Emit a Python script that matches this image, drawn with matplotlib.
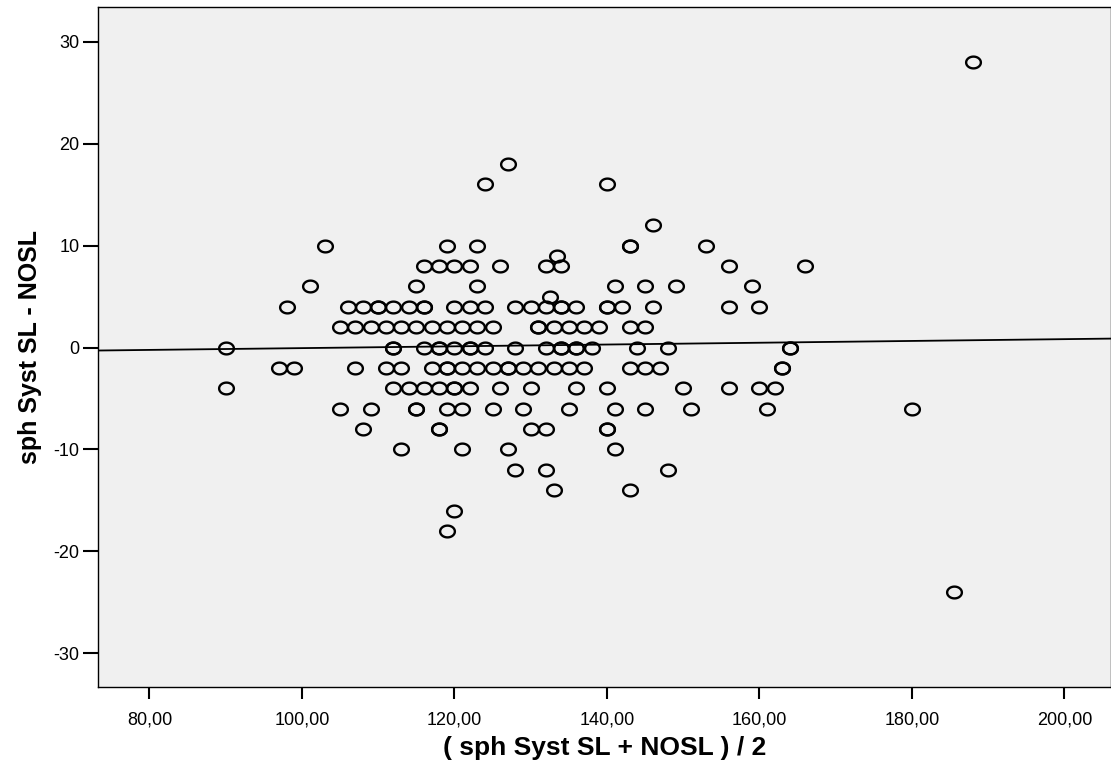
import numpy as np
import matplotlib
matplotlib.use("Agg")
import matplotlib.pyplot as plt
from matplotlib.path import Path

plt.rcParams['font.family'] = ['Liberation Sans', 'DejaVu Sans']

# Bland-Altman data: x = mean (SL+NOSL)/2, grouped by difference value
x_d28 = [188]
x_d18 = [127]
x_d16 = [124, 140]
x_d12 = [146]
x_d10 = [103, 119, 123, 143, 143, 153]
x_d9 = [133.5]
x_d8 = [116, 118, 120, 122, 126, 132, 134, 156, 166]
x_d6 = [101, 115, 123, 141, 145, 149, 159]
x_d5 = [132.5]
x_d4 = [98, 106, 108, 110, 110, 112, 114, 116, 116, 120, 122, 124, 128, 130,
        132, 134, 134, 136, 140, 140, 142, 146, 156, 160]
x_d2 = [105, 107, 109, 111, 113, 115, 117, 119, 121, 123, 125, 131, 131, 133,
        135, 137, 139, 143, 145]
x_d0 = [90, 112, 112, 116, 118, 118, 120, 122, 122, 124, 128, 132, 134, 134,
        136, 136, 138, 144, 148, 164, 164]
x_dm2 = [97, 99, 107, 111, 113, 117, 119, 119, 121, 123, 125, 127, 127, 129,
         131, 133, 135, 137, 143, 145, 147, 163, 163]
x_dm4 = [90, 112, 114, 116, 118, 120, 120, 122, 126, 130, 136, 140, 150, 156,
         160, 162]
x_dm6 = [105, 109, 115, 115, 119, 121, 125, 129, 135, 141, 145, 151, 161, 180]
x_dm8 = [108, 118, 118, 130, 132, 140, 140]
x_dm10 = [113, 121, 127, 141]
x_dm12 = [128, 132, 148]
x_dm14 = [133, 143]
x_dm16 = [120]
x_dm18 = [119]
x_dm24 = [185.5]

diff_levels = [28, 18, 16, 12, 10, 9, 8, 6, 5, 4, 2, 0, -2, -4, -6, -8, -10,
               -12, -14, -16, -18, -24]
x_groups = [x_d28, x_d18, x_d16, x_d12, x_d10, x_d9, x_d8, x_d6, x_d5, x_d4,
            x_d2, x_d0, x_dm2, x_dm4, x_dm6, x_dm8, x_dm10, x_dm12, x_dm14,
            x_dm16, x_dm18, x_dm24]

# fit line
fit_intercept = -0.94
fit_slope = 0.0088

x_ticks = [80, 100, 120, 140, 160, 180, 200]
x_tick_labels = ["80,00", "100,00", "120,00", "140,00", "160,00", "180,00", "200,00"]
y_ticks = [-30, -20, -10, 0, 10, 20, 30]
y_tick_labels = ["-30", "-20", "-10", "0", "10", "20", "30"]

xs = np.concatenate([np.asarray(g, float) for g in x_groups])
ys = np.concatenate([np.full(len(g), d, float) for g, d in zip(x_groups, diff_levels)])

fig = plt.figure(figsize=(11.11, 7.66), dpi=100)
ax = fig.add_axes([0.0885, 0.1035, 0.9115, 0.887])
ax.set_facecolor("#f0f0f0")

xmin, xmax = 73.3, 206.1
ax.set_xlim(xmin, xmax)
ax.set_ylim(-33.28, 33.38)

# fit line
lx = np.array([xmin, xmax])
ax.plot(lx, fit_intercept + fit_slope * lx, color="black", lw=1.3, zorder=2)

# elliptical open markers
t = np.linspace(0, 2 * np.pi, 64)
ell = Path(np.column_stack([np.cos(t), 0.8 * np.sin(t)]), closed=True)
ax.plot(xs, ys, linestyle="none", marker=ell, markersize=10.6,
        markerfacecolor="none", markeredgecolor="black", markeredgewidth=1.7,
        zorder=3)

ax.set_xticks(x_ticks)
ax.set_xticklabels(x_tick_labels)
ax.set_yticks(y_ticks)
ax.set_yticklabels(y_tick_labels)
ax.tick_params(axis="x", direction="out", length=8.5, width=1.5, labelsize=13, pad=9)
ax.tick_params(axis="y", direction="out", length=10.5, width=1.5, labelsize=13, pad=3)

for s in ax.spines.values():
    s.set_linewidth(1.0)
    s.set_color("black")

ax.set_xlabel("( sph Syst SL + NOSL ) / 2", fontsize=19, fontweight="bold", labelpad=6)
ax.set_ylabel("sph Syst SL - NOSL", fontsize=18, fontweight="bold", labelpad=8)

fig.savefig("out.png", dpi=100)
